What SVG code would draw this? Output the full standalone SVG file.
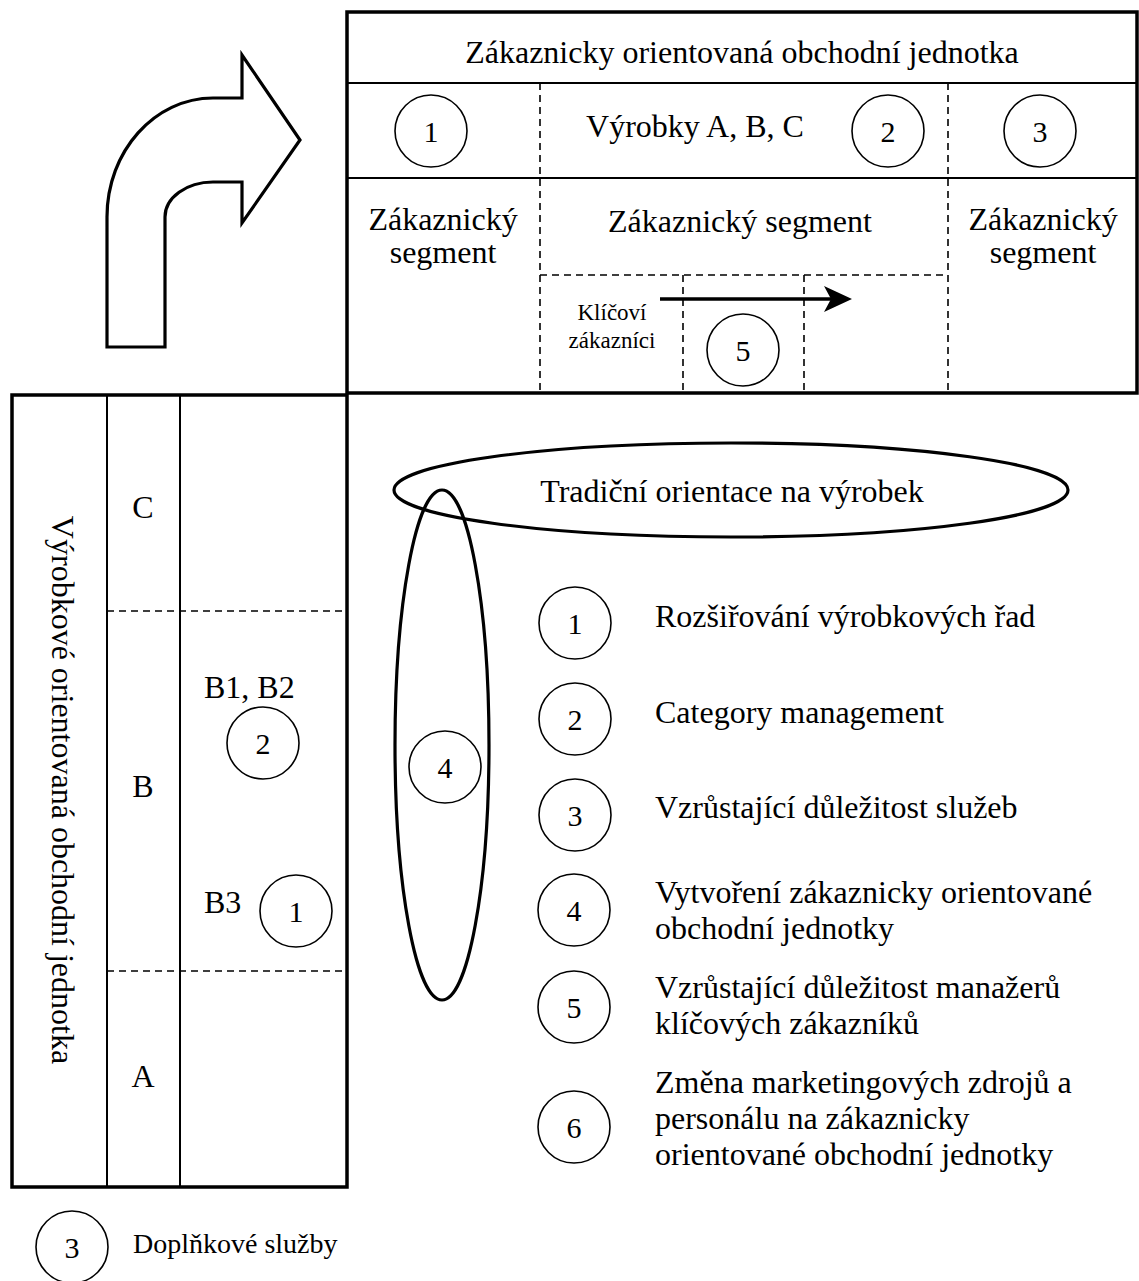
<svg xmlns="http://www.w3.org/2000/svg" width="1139" height="1281" viewBox="0 0 1139 1281">
  <style>
    text { font-family: "Liberation Serif", "Times New Roman", serif; fill: #000; }
    .t32 { font-size: 32px; }
    .t30 { font-size: 30px; }
    .t28 { font-size: 28px; }
    .t23 { font-size: 23px; }
    .mid { text-anchor: middle; }
    .frame { fill: none; stroke: #000; stroke-width: 3.5; }
    .solid { fill: none; stroke: #000; stroke-width: 2; }
    .dash { fill: none; stroke: #000; stroke-width: 1.6; stroke-dasharray: 7 5; }
    .num { fill: #fff; stroke: #000; stroke-width: 1.6; }
    .oval { fill: none; stroke: #000; stroke-width: 3.2; }
  </style>
  <defs>
    <marker id="head" markerWidth="28" markerHeight="28" refX="16" refY="14" orient="auto" markerUnits="userSpaceOnUse" viewBox="0 0 28 28">
      <path d="M0,1 L28,14 L0,27 L7,14 Z" fill="#000"/>
    </marker>
  </defs>
  <rect width="1139" height="1281" fill="#fff"/>

  <!-- bent arrow pointing into the customer-oriented unit -->
  <g id="bent-arrow">
    <path d="M107,347 L165,347 L165,217 C165,197.7 186.5,182 213,182 L242,182 L242,223 L300,140 L242,55 L242,98 L213,98 C154.5,98 107,151.3 107,217 Z" fill="#fff" stroke="#000" stroke-width="3.2" stroke-linejoin="miter"/>
  </g>

  <!-- customer-oriented business unit (top) -->
  <g id="customer-unit">
    <line class="solid" x1="347" y1="83" x2="1137" y2="83"/>
    <line class="solid" x1="347" y1="178" x2="1137" y2="178"/>
    <line class="dash" x1="540" y1="83" x2="540" y2="392"/>
    <line class="dash" x1="948" y1="83" x2="948" y2="392"/>
    <line class="dash" x1="540" y1="275" x2="948" y2="275"/>
    <line class="dash" x1="683" y1="275" x2="683" y2="392"/>
    <line class="dash" x1="804" y1="275" x2="804" y2="392"/>
    <rect class="frame" x="347" y="12" width="790" height="381"/>
    <text class="t32 mid" x="742" y="63">Zákaznicky orientovaná obchodní jednotka</text>
    <text class="t32 mid" x="695" y="137">Výrobky A, B, C</text>
    <text class="t32 mid" x="443" y="230">Zákaznický</text>
    <text class="t32 mid" x="443" y="263">segment</text>
    <text class="t32 mid" x="740" y="232">Zákaznický segment</text>
    <text class="t32 mid" x="1043" y="230">Zákaznický</text>
    <text class="t32 mid" x="1043" y="263">segment</text>
    <text class="t23 mid" x="612" y="320">Klíčoví</text>
    <text class="t23 mid" x="612" y="348">zákazníci</text>
  </g>

  <g id="c-top-1"><circle class="num" cx="431" cy="131" r="36"/><text class="t30 mid" x="431" y="142">1</text></g>
  <g id="c-top-2"><circle class="num" cx="888" cy="131" r="36"/><text class="t30 mid" x="888" y="142">2</text></g>
  <g id="c-top-3"><circle class="num" cx="1040" cy="131" r="36"/><text class="t30 mid" x="1040" y="142">3</text></g>
  <g id="c-top-5"><circle class="num" cx="743" cy="350" r="36"/><text class="t30 mid" x="743" y="361">5</text></g>

  <!-- product-oriented business unit (left) -->
  <g id="product-unit">
    <line class="solid" x1="107" y1="395" x2="107" y2="1187"/>
    <line class="solid" x1="180" y1="395" x2="180" y2="1187"/>
    <line class="dash" x1="107" y1="611" x2="347" y2="611"/>
    <line class="dash" x1="107" y1="971" x2="347" y2="971"/>
    <rect class="frame" x="12" y="395" width="335" height="792"/>
    <text class="t32 mid" transform="translate(52,790) rotate(90)" x="0" y="0">Výrobkové orientovaná obchodní jednotka</text>
    <text class="t32 mid" x="143" y="518">C</text>
    <text class="t32 mid" x="143" y="797">B</text>
    <text class="t32 mid" x="143" y="1087">A</text>
    <text class="t32" x="204" y="698">B1, B2</text>
    <text class="t32" x="204" y="913">B3</text>
  </g>

  <g id="c-left-2"><circle class="num" cx="263" cy="743" r="36"/><text class="t30 mid" x="263" y="754">2</text></g>
  <g id="c-left-1"><circle class="num" cx="296" cy="911" r="36"/><text class="t30 mid" x="296" y="922">1</text></g>

  <!-- ovals -->
  <g id="traditional">
    <ellipse class="oval" cx="731" cy="490" rx="337" ry="47"/>
    <text class="t32 mid" x="732" y="502">Tradiční orientace na výrobek</text>
  </g>
  <g id="transition">
    <ellipse class="oval" cx="442" cy="745" rx="47" ry="255"/>
    <circle class="num" cx="445" cy="767" r="36"/>
    <text class="t30 mid" x="445" y="778">4</text>
  </g>

  <!-- key-account arrow -->
  <g id="connectors">
    <line x1="660" y1="299" x2="840" y2="299" stroke="#000" stroke-width="3.5" marker-end="url(#head)"/>
  </g>

  <!-- legend -->
  <g id="legend-1"><circle class="num" cx="575" cy="623" r="36"/><text class="t30 mid" x="575" y="634">1</text>
    <text class="t32" x="655" y="627">Rozšiřování výrobkových řad</text></g>
  <g id="legend-2"><circle class="num" cx="575" cy="719" r="36"/><text class="t30 mid" x="575" y="730">2</text>
    <text class="t32" x="655" y="723">Category management</text></g>
  <g id="legend-3"><circle class="num" cx="575" cy="815" r="36"/><text class="t30 mid" x="575" y="826">3</text>
    <text class="t32" x="655" y="818">Vzrůstající důležitost služeb</text></g>
  <g id="legend-4"><circle class="num" cx="574" cy="910" r="36"/><text class="t30 mid" x="574" y="921">4</text>
    <text class="t32" x="655" y="903">Vytvoření zákaznicky orientované</text>
    <text class="t32" x="655" y="939">obchodní jednotky</text></g>
  <g id="legend-5"><circle class="num" cx="574" cy="1007" r="36"/><text class="t30 mid" x="574" y="1018">5</text>
    <text class="t32" x="655" y="998">Vzrůstající důležitost manažerů</text>
    <text class="t32" x="655" y="1034">klíčových zákazníků</text></g>
  <g id="legend-6"><circle class="num" cx="574" cy="1127" r="36"/><text class="t30 mid" x="574" y="1138">6</text>
    <text class="t32" x="655" y="1093">Změna marketingových zdrojů a</text>
    <text class="t32" x="655" y="1129">personálu na zákaznicky</text>
    <text class="t32" x="655" y="1165">orientované obchodní jednotky</text></g>

  <g id="legend-services"><circle class="num" cx="72" cy="1247" r="36"/><text class="t30 mid" x="72" y="1258">3</text>
    <text class="t28" x="133" y="1253">Doplňkové služby</text></g>
</svg>
